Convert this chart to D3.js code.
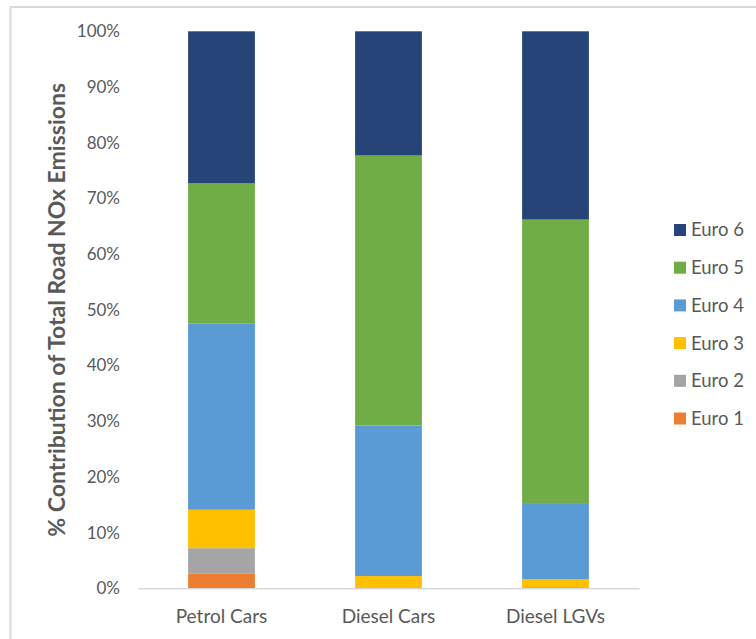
<!DOCTYPE html>
<html>
<head>
<meta charset="utf-8">
<script src="https://cdn.jsdelivr.net/npm/d3@7"></script>
<style>
  html, body { margin: 0; padding: 0; background: #fff; }
  svg { display: block; }
  text { font-family: Lato, "Open Sans", sans-serif; fill: #595959; }
</style>
</head>
<body>
<svg id="chart" width="756" height="639"></svg>
<script>
// Vehicle groups on the x axis
const categories = ["Petrol Cars", "Diesel Cars", "Diesel LGVs"];
// Euro standards, stacked bottom to top
const series = ["Euro 1", "Euro 2", "Euro 3", "Euro 4", "Euro 5", "Euro 6"];
// Share of total road NOx emissions (%) per Euro standard, one value per category
const euro1 = [2.6, 0.0, 0.0];
const euro2 = [4.6, 0.0, 0.2];
const euro3 = [6.9, 2.2, 1.4];
const euro4 = [33.4, 27.0, 13.7];
const euro5 = [25.2, 48.5, 50.9];
const euro6 = [27.3, 22.3, 33.8];
const yTicks = [0, 10, 20, 30, 40, 50, 60, 70, 80, 90, 100];
const colors = ["#ED7D31", "#A5A5A5", "#FFC000", "#5B9BD5", "#70AD47", "#264478"];

const seriesValues = [euro1, euro2, euro3, euro4, euro5, euro6];
const rows = categories.map((c, i) => {
  const r = { category: c };
  series.forEach((s, j) => { r[s] = seriesValues[j][i]; });
  return r;
});

const svg = d3.select("#chart");

// outer chart frame
svg.append("rect")
  .attr("x", 10.5).attr("y", 7)
  .attr("width", 760).attr("height", 650)
  .attr("fill", "none")
  .attr("stroke", "#d9d9d9")
  .attr("stroke-width", 2);

const plot = { left: 138, right: 639, top: 31.3, bottom: 588.3 };

const x = d3.scaleBand()
  .domain(categories)
  .range([plot.left, plot.right])
  .paddingInner(0.6)
  .paddingOuter(0.3);

const y = d3.scaleLinear()
  .domain([0, 100])
  .range([plot.bottom, plot.top]);

const stacked = d3.stack().keys(series)(rows);

svg.append("g")
  .selectAll("g")
  .data(stacked)
  .join("g")
  .attr("fill", (d, i) => colors[i])
  .selectAll("rect")
  .data(d => d)
  .join("rect")
  .attr("x", d => x(d.data.category))
  .attr("width", x.bandwidth())
  .attr("y", d => y(d[1]))
  .attr("height", d => y(d[0]) - y(d[1]));

// y axis: labels only
const yAxis = svg.append("g")
  .attr("transform", `translate(${plot.left - 18},0)`)
  .call(d3.axisLeft(y).tickValues(yTicks).tickFormat(d => d + "%").tickSize(0).tickPadding(0));
yAxis.select(".domain").remove();
yAxis.selectAll("text")
  .attr("font-size", 17)
  .attr("font-family", "Lato, sans-serif")
  .attr("fill", "#595959");

// x axis: baseline and category labels
const xAxis = svg.append("g")
  .attr("transform", `translate(0,${plot.bottom})`)
  .call(d3.axisBottom(x).tickSize(0).tickPadding(21));
xAxis.select(".domain")
  .attr("stroke", "#d9d9d9")
  .attr("stroke-width", 1.5);
xAxis.selectAll("text")
  .attr("font-size", 19)
  .attr("font-family", "Lato, sans-serif")
  .attr("fill", "#595959");

// y axis title
svg.append("text")
  .attr("transform", `translate(65,${(plot.top + plot.bottom) / 2}) rotate(-90)`)
  .attr("text-anchor", "middle")
  .attr("font-size", 23)
  .attr("font-weight", "bold")
  .text("% Contribution of Total Road NOx Emissions");

// legend, Euro 6 at top
const legend = svg.append("g");
const legendItems = series.slice().reverse();
legendItems.forEach((s, i) => {
  const cy = 230 + i * 37.7;
  const idx = series.indexOf(s);
  legend.append("rect")
    .attr("x", 674).attr("y", cy - 6)
    .attr("width", 12).attr("height", 12)
    .attr("fill", colors[idx]);
  legend.append("text")
    .attr("x", 691).attr("y", cy)
    .attr("dy", "0.35em")
    .attr("font-size", 18.5)
    .text(s);
});
</script>
</body>
</html>
